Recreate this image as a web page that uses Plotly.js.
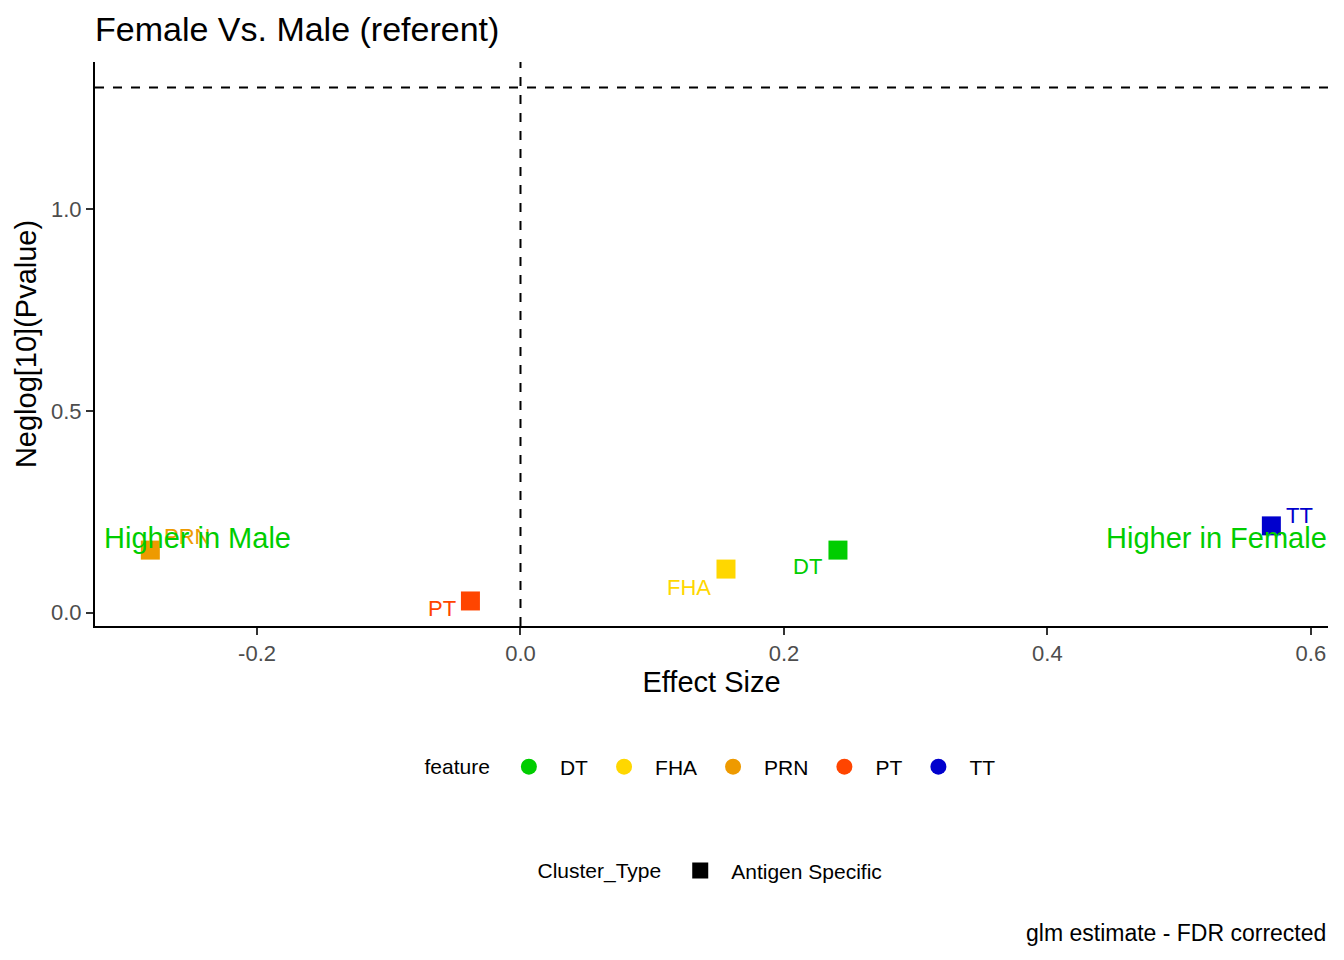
<!DOCTYPE html>
<html>
<head>
<meta charset="utf-8">
<script src="https://cdn.plot.ly/plotly-3.0.1.min.js"></script>
<style>
  body { margin: 0; background: #fff; }
  #myDiv { width: 1344px; height: 960px; }
</style>
</head>
<body>
<div id="myDiv"></div>
<script>
// values
var features = ['DT', 'FHA', 'PRN', 'PT', 'TT'];
var featureColors = ['#00CD00', '#FFD700', '#EE9A00', '#FF4500', '#0000CD'];
var effectSize = [0.241, 0.156, -0.281, -0.038, 0.570];
var neglogP = [0.155, 0.108, 0.155, 0.029, 0.215];

// label nudges (px), like ggrepel put them
var labelDx = [-30, -37, 37, -28, 28];
var labelDy = [-16, -18, 14, -8, 10];

var clusterTypes = ['Antigen Specific'];
var pCutoff = 0.05;
var sideLabels = ['Higher in Male', 'Higher in Female'];
var sideLabelX = [-0.2455, 0.5287];
var sideLabelY = 0.185;

var xTicks = [-0.2, 0.0, 0.2, 0.4, 0.6];
var yTicks = [0.0, 0.5, 1.0];

var FONT = 'Liberation Sans, Arial, sans-serif';

function loadPage() {
    var traces = [];

    // the points themselves (squares = Antigen Specific)
    traces.push({
        x: effectSize,
        y: neglogP,
        text: features,
        type: 'scatter',
        mode: 'markers',
        marker: { symbol: 'square', size: 19, color: featureColors },
        showlegend: false,
        cliponaxis: false,
        hoverinfo: 'x+y+text'
    });

    // legend entries for "feature"
    for (var i = 0; i < features.length; i++) {
        traces.push({
            x: [null],
            y: [null],
            type: 'scatter',
            mode: 'markers',
            name: features[i],
            marker: { symbol: 'circle', size: 18, color: featureColors[i] },
            legend: 'legend'
        });
    }

    // legend entry for "Cluster_Type"
    traces.push({
        x: [null],
        y: [null],
        type: 'scatter',
        mode: 'markers',
        name: clusterTypes[0],
        marker: { symbol: 'square', size: 18, color: '#000000' },
        legend: 'legend2'
    });

    var annotations = [];
    for (var k = 0; k < features.length; k++) {
        annotations.push({
            x: effectSize[k],
            y: neglogP[k],
            xref: 'x',
            yref: 'y',
            text: features[k],
            showarrow: false,
            xanchor: 'center',
            yanchor: 'middle',
            xshift: labelDx[k],
            yshift: labelDy[k],
            font: { family: FONT, size: 22, color: featureColors[k] }
        });
    }
    for (var j = 0; j < sideLabels.length; j++) {
        annotations.push({
            x: sideLabelX[j],
            y: sideLabelY,
            xref: 'x',
            yref: 'y',
            text: sideLabels[j],
            showarrow: false,
            xanchor: 'center',
            yanchor: 'middle',
            font: { family: FONT, size: 29, color: '#00CD00' }
        });
    }
    annotations.push({
        x: 1,
        y: -0.544,
        xref: 'paper',
        yref: 'paper',
        text: 'glm estimate - FDR corrected',
        showarrow: false,
        xanchor: 'right',
        yanchor: 'middle',
        font: { family: FONT, size: 23, color: '#000000' }
    });

    var layout = {
        width: 1344,
        height: 960,
        margin: { l: 95, r: 16, t: 62, b: 334 },
        paper_bgcolor: '#ffffff',
        plot_bgcolor: '#ffffff',
        font: { family: FONT, color: '#000000' },
        title: {
            text: 'Female Vs. Male (referent)',
            font: { family: FONT, size: 34, color: '#000000' },
            x: 95 / 1344,
            xanchor: 'left',
            xref: 'container',
            y: 1 - 29 / 960,
            yanchor: 'middle',
            yref: 'container'
        },
        xaxis: {
            range: [-0.323, 0.613],
            tickvals: xTicks,
            ticktext: xTicks.map(function (v) { return v.toFixed(1); }),
            showgrid: false,
            zeroline: false,
            showline: true,
            linecolor: '#000000',
            linewidth: 2,
            ticks: 'outside',
            ticklen: 7,
            tickwidth: 2,
            tickcolor: '#333333',
            tickfont: { family: FONT, size: 22, color: '#4D4D4D' },
            title: { text: 'Effect Size', font: { family: FONT, size: 29, color: '#000000' }, standoff: 4 }
        },
        yaxis: {
            range: [-0.033, 1.364],
            tickvals: yTicks,
            ticktext: yTicks.map(function (v) { return v.toFixed(1); }),
            showgrid: false,
            zeroline: false,
            showline: true,
            linecolor: '#000000',
            linewidth: 2,
            ticks: 'outside',
            ticklen: 7,
            tickwidth: 2,
            tickcolor: '#333333',
            tickfont: { family: FONT, size: 22, color: '#4D4D4D' },
            title: { text: 'Neglog[10](Pvalue)', font: { family: FONT, size: 29, color: '#000000' }, standoff: 6 }
        },
        shapes: [
            {
                type: 'line', xref: 'paper', yref: 'y',
                x0: 0, x1: 1, y0: -Math.log10(pCutoff), y1: -Math.log10(pCutoff),
                line: { color: '#000000', width: 2, dash: 'dash' }
            },
            {
                type: 'line', xref: 'x', yref: 'paper',
                x0: 0, x1: 0, y0: 0, y1: 1,
                line: { color: '#000000', width: 2, dash: 'dash' }
            }
        ],
        annotations: annotations,
        legend: {
            orientation: 'h',
            x: 0.5,
            xanchor: 'center',
            y: -0.25,
            yanchor: 'middle',
            itemwidth: 52,
            title: { text: 'feature', side: 'left', font: { family: FONT, size: 21, color: '#000000' } },
            font: { family: FONT, size: 21, color: '#000000' },
            itemclick: false,
            itemdoubleclick: false
        },
        legend2: {
            orientation: 'h',
            x: 0.5,
            xanchor: 'center',
            y: -0.434,
            yanchor: 'middle',
            itemwidth: 52,
            title: { text: 'Cluster_Type', side: 'left', font: { family: FONT, size: 21, color: '#000000' } },
            font: { family: FONT, size: 21, color: '#000000' },
            itemclick: false,
            itemdoubleclick: false
        },
        showlegend: true
    };

    Plotly.newPlot('myDiv', traces, layout, { displayModeBar: false, staticPlot: true });
}

loadPage();
</script>
</body>
</html>
